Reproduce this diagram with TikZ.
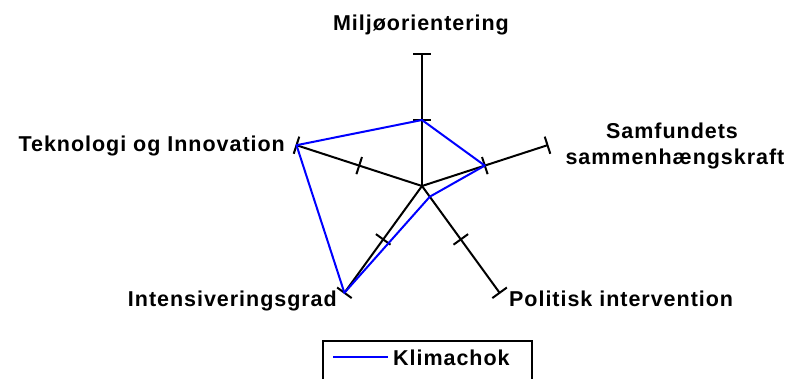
\documentclass[tikz,border=0pt]{standalone}
\usepackage{fontspec}
\newfontfamily\chartfont{Liberation Sans}[LetterSpace=4.5]
\definecolor{klimablue}{RGB}{0,0,255}
\tikzset{
  axis/.style={line width=2pt,black},
  tick/.style={line width=2pt,black},
  serie/.style={line width=2pt,klimablue},
  lbl/.style={inner sep=0pt,font=\chartfont\fontsize{21.5}{24}\bfseries\selectfont}
}
\begin{document}
\begin{tikzpicture}[x=1pt,y=1pt]
    \useasboundingbox (0,0) rectangle (787,378);
    \coordinate (O) at (422,192);
    % axis ends
    \coordinate (A1) at (422,324);
    \coordinate (A2) at (547.5,232.8);
    \coordinate (A3) at (499.6,85.2);
    \coordinate (A4) at (344.4,85.2);
    \coordinate (A5) at (296.5,232.8);
    % half way
    \coordinate (M1) at (422,258);
    \coordinate (M2) at (484.8,212.4);
    \coordinate (M3) at (460.8,138.6);
    \coordinate (M4) at (383.2,138.6);
    \coordinate (M5) at (359.2,212.4);
    % Klimachok
    \coordinate (B3) at (429.8,181.3);

    \draw[axis] (O) -- (A1);
    \draw[axis] (O) -- (A2);
    \draw[axis] (O) -- (A3);
    \draw[axis] (O) -- (A4);
    \draw[axis] (O) -- (A5);

    \foreach \p/\a in {A1/90,M1/90,A2/18,M2/18,A3/-54,M3/-54,A4/-126,M4/-126,A5/162,M5/162}
      \draw[tick] (\p) ++(\a+90:9) -- ++(\a-90:18);

    \draw[serie,line join=round] (M1) -- (M2) -- (B3) -- (A4) -- (A5) -- cycle;

    \node[lbl,anchor=base] (L1) at (421,347) {Miljøorientering};
    \node[lbl,anchor=base] (L2a) at (672,239) {Samfundets};
    \node[lbl,anchor=base] (L2b) at (675,213) {sammenhængskraft};
    \node[lbl,anchor=base west] (L3) at (509,72) {Politisk intervention};
    \node[lbl,anchor=base east] (L4) at (337,72) {Intensiveringsgrad};
    \node[lbl,anchor=base east] (L5) at (285,226) {Teknologi og Innovation};

    % legend
    \draw[line width=1.4pt] (323,-5) rectangle (532,37);
    \coordinate (K1) at (333,21);
    \coordinate (K2) at (388,21);
    \draw[serie] (K1) -- (K2);
    \node[lbl,anchor=base west] (K) at (393,13) {Klimachok};
\end{tikzpicture}
\end{document}
